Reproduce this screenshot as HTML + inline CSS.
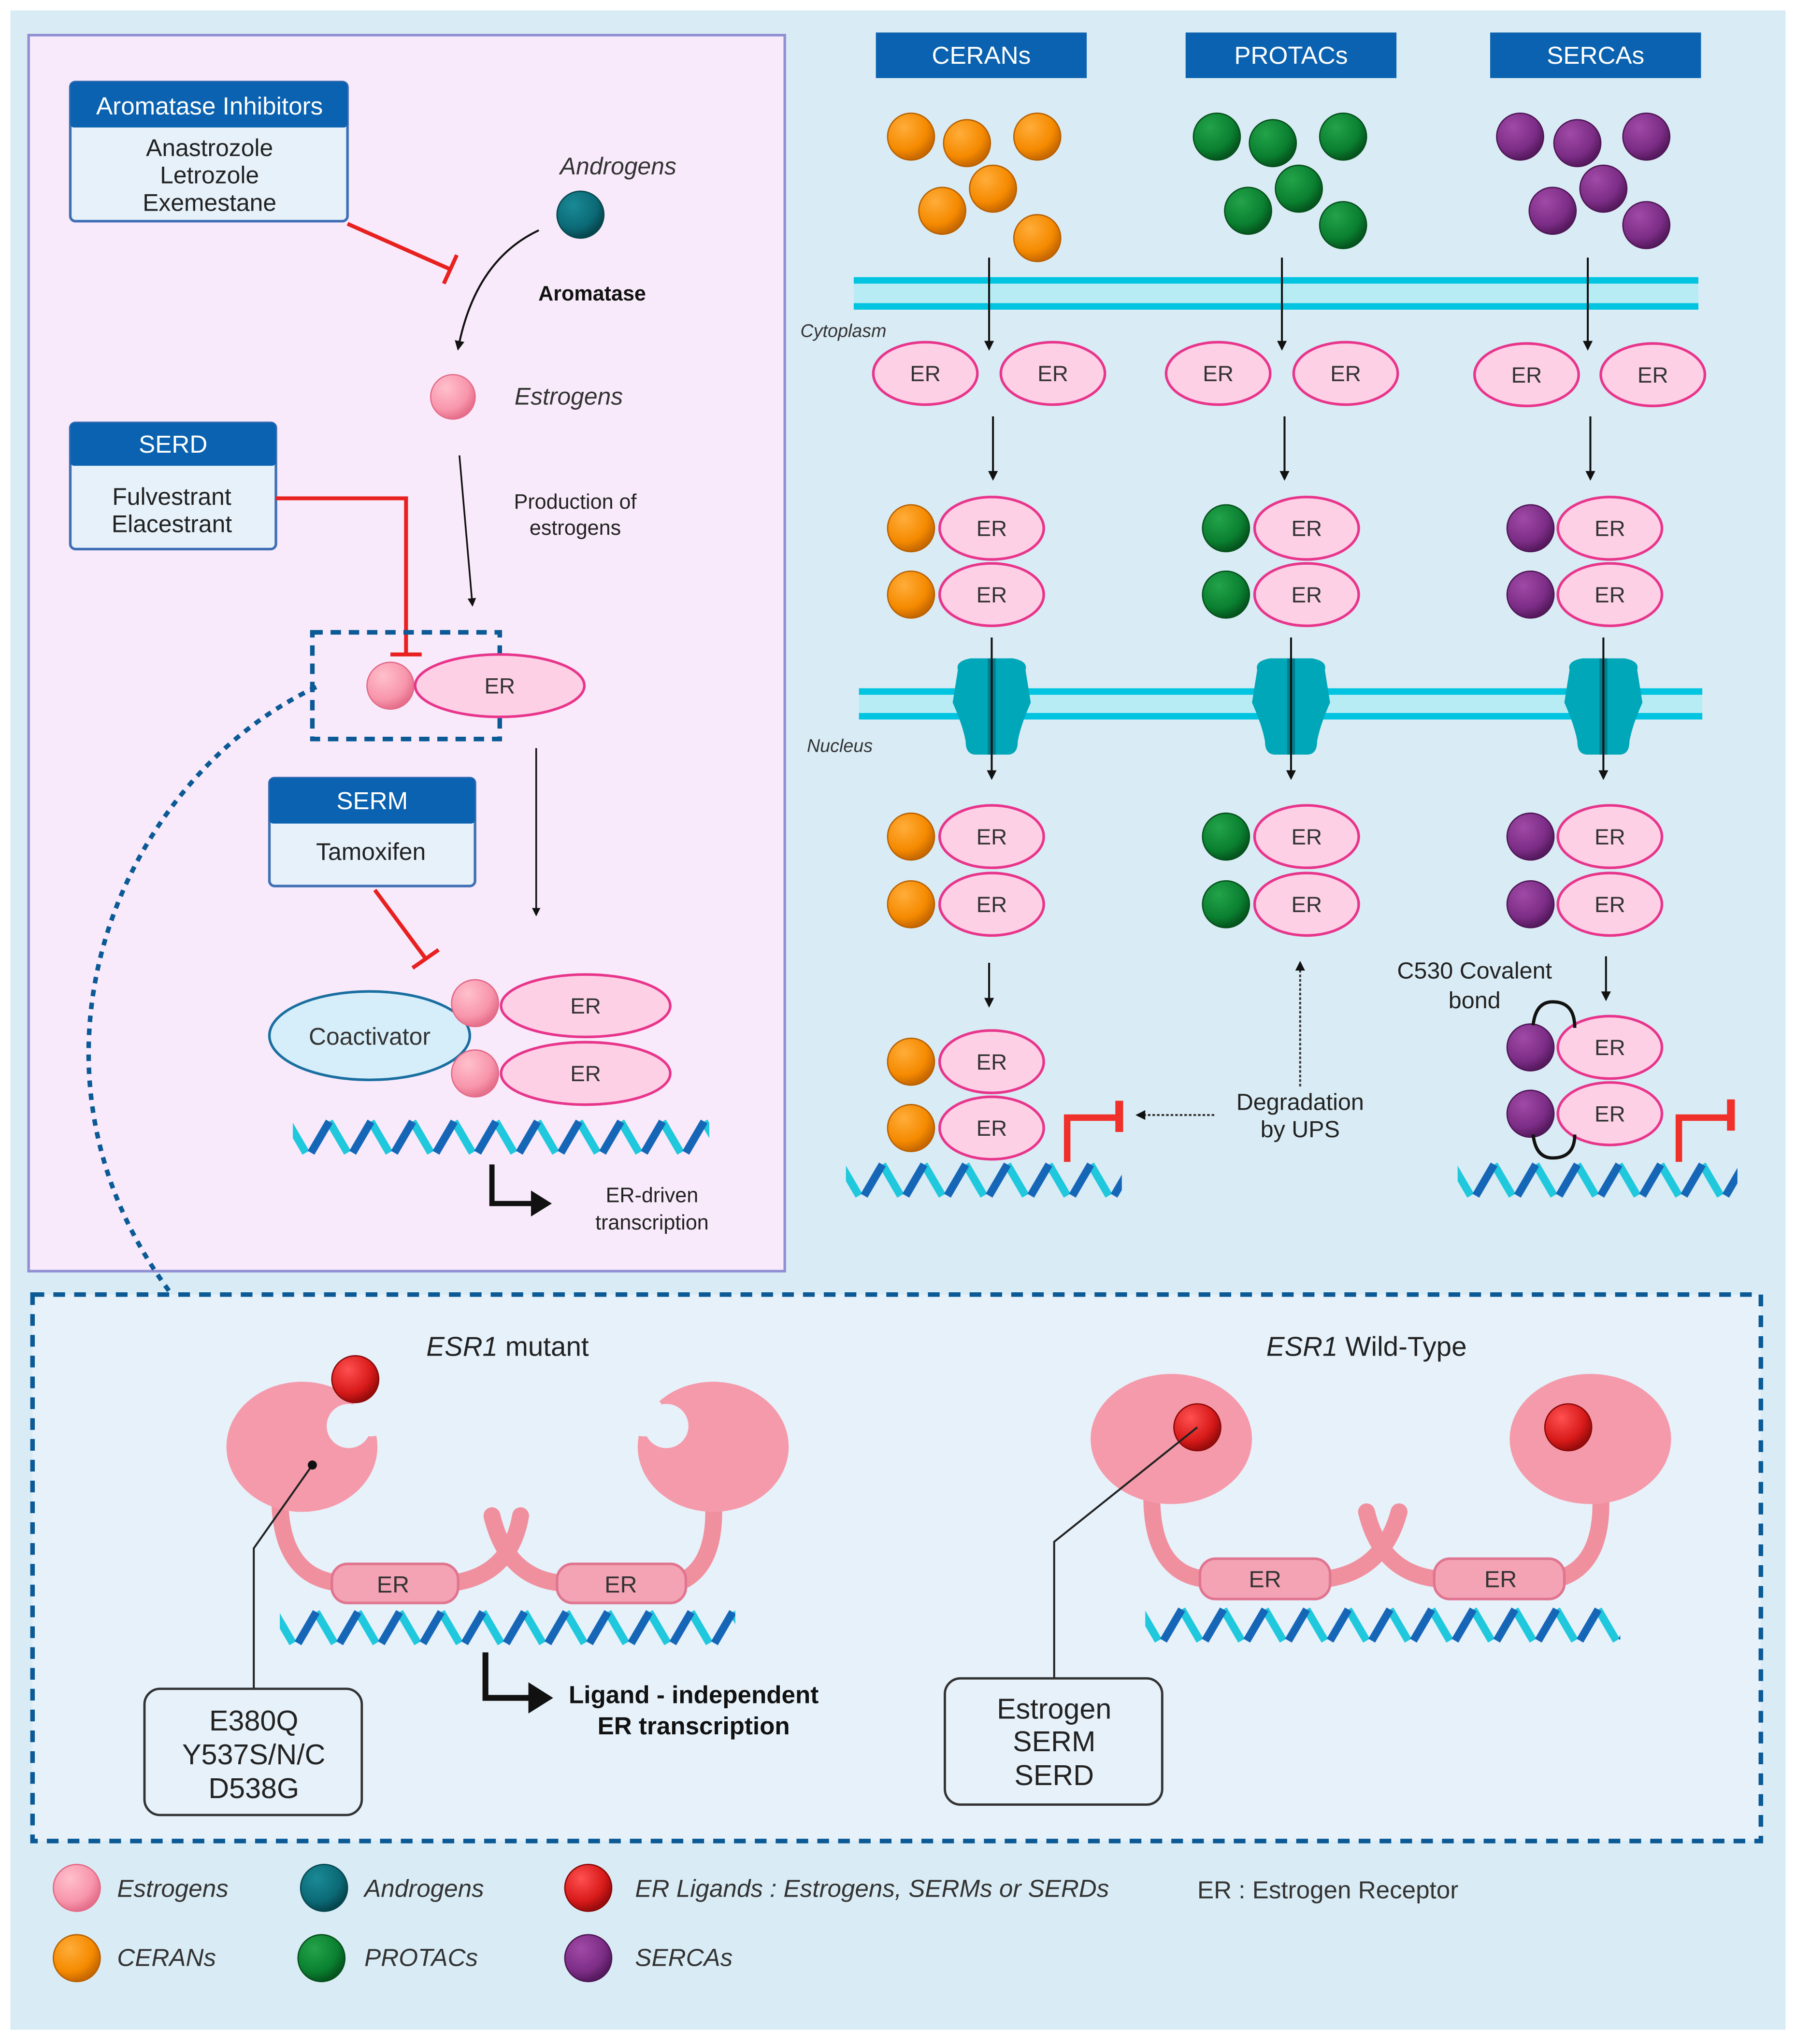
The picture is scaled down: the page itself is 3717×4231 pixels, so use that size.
<!DOCTYPE html>
<html><head><meta charset="utf-8"><style>html,body{margin:0;padding:0;background:#fff}svg{display:block}text{font-family:"Liberation Sans",sans-serif}</style></head><body>
<svg width="3717" height="4231" viewBox="0 0 1380 1571" preserveAspectRatio="none" xmlns="http://www.w3.org/2000/svg">
<defs>
<radialGradient id="go" cx="35%" cy="30%" r="70%"><stop offset="0" stop-color="#ffad3a"/><stop offset=".7" stop-color="#f58a00"/><stop offset="1" stop-color="#c76800"/></radialGradient>
<radialGradient id="gg" cx="35%" cy="30%" r="70%"><stop offset="0" stop-color="#23a34a"/><stop offset=".7" stop-color="#0a8030"/><stop offset="1" stop-color="#05561e"/></radialGradient>
<radialGradient id="gp" cx="35%" cy="30%" r="70%"><stop offset="0" stop-color="#a04aa6"/><stop offset=".7" stop-color="#7c2d86"/><stop offset="1" stop-color="#561a5e"/></radialGradient>
<radialGradient id="gk" cx="35%" cy="30%" r="70%"><stop offset="0" stop-color="#ffc0cc"/><stop offset=".7" stop-color="#f896ac"/><stop offset="1" stop-color="#e6708c"/></radialGradient>
<radialGradient id="gt" cx="35%" cy="30%" r="70%"><stop offset="0" stop-color="#1a8a96"/><stop offset=".7" stop-color="#0b6a76"/><stop offset="1" stop-color="#06474f"/></radialGradient>
<radialGradient id="gr" cx="35%" cy="30%" r="70%"><stop offset="0" stop-color="#ff5050"/><stop offset=".7" stop-color="#d81a1a"/><stop offset="1" stop-color="#9a0c0c"/></radialGradient>
<g id="bo"><circle r="18" fill="url(#go)" stroke="#b86000" stroke-width="1"/></g>
<g id="bg"><circle r="18" fill="url(#gg)" stroke="#05501c" stroke-width="1"/></g>
<g id="bp"><circle r="18" fill="url(#gp)" stroke="#4e1656" stroke-width="1"/></g>
<g id="bk"><circle r="18" fill="url(#gk)" stroke="#e26a88" stroke-width="1"/></g>
<g id="bt"><circle r="18" fill="url(#gt)" stroke="#06474f" stroke-width="1"/></g>
<g id="br"><circle r="18" fill="url(#gr)" stroke="#8a0a0a" stroke-width="1"/></g>
<g id="er"><ellipse rx="40" ry="24" fill="#fdd0e6" stroke="#e8358c" stroke-width="2"/></g>
<g id="erb"><ellipse rx="65" ry="24" fill="#fdd0e6" stroke="#e8358c" stroke-width="2"/></g>
<pattern id="dna" width="32" height="28" patternUnits="userSpaceOnUse">
<path d="M-4,2 L10,26 M28,2 L42,26" stroke="#1fc8dc" stroke-width="6"/>
<path d="M14,26 L28,2" stroke="#1666b8" stroke-width="6"/>
</pattern>
<g id="pore"><path d="M-26,-25 Q-28,-32 -16,-34 L16,-34 Q28,-32 26,-25 L30,0 Q22,18 20,30 Q20,40 12,40 L-12,40 Q-20,40 -20,30 Q-22,18 -30,0 Z" fill="#00a7b8"/><rect x="-3" y="-34" width="6" height="74" fill="#046070" opacity=".6"/></g>
<marker id="ah" viewBox="0 0 10 10" refX="8" refY="5" markerWidth="5" markerHeight="5" orient="auto"><path d="M0,0 L10,5 L0,10 Z" fill="#111"/></marker>
</defs>
<rect width="1380" height="1571" fill="#fff"/>
<rect x="8" y="8" width="1364" height="1552" fill="#d9ebf4"/>
<rect x="22" y="27" width="581" height="950" fill="#f8eafa" stroke="#8f8fd2" stroke-width="2"/>
<rect x="25" y="995" width="1328" height="420" fill="#e6f1fa" stroke="#0b5a96" stroke-width="3.5" stroke-dasharray="9,7"/>

<rect x="54" y="63" width="213" height="107" rx="4" fill="#e6f1fa" stroke="#3f6fb5" stroke-width="2"/>
<rect x="54" y="63" width="213" height="35" rx="3" fill="#0a62b0"/>
<text x="161" y="88" font-size="19" fill="#fff" text-anchor="middle">Aromatase Inhibitors</text>
<text x="161" y="120" font-size="18.5" fill="#222" text-anchor="middle">Anastrozole</text>
<text x="161" y="141" font-size="18.5" fill="#222" text-anchor="middle">Letrozole</text>
<text x="161" y="162" font-size="18.5" fill="#222" text-anchor="middle">Exemestane</text>
<path d="M267,172 L346,207" stroke="#e8201f" stroke-width="3"/><path d="M351,196 L341,218" stroke="#e8201f" stroke-width="3"/>
<text x="475" y="134" font-size="18.5" font-style="italic" fill="#333" text-anchor="middle">Androgens</text>
<use href="#bt" transform="translate(446,165)"/>
<path d="M414,177 Q365,200 352,268" fill="none" stroke="#111" stroke-width="1.5" marker-end="url(#ah)"/>
<text x="455" y="231" font-size="16" font-weight="bold" fill="#111" text-anchor="middle">Aromatase</text>
<use href="#bk" transform="translate(348,305) scale(.95)"/>
<text x="437" y="311" font-size="18.5" font-style="italic" fill="#333" text-anchor="middle">Estrogens</text>
<path d="M353,350 L363,465" stroke="#111" stroke-width="1.3" marker-end="url(#ah)"/>
<text x="442" y="391" font-size="16" fill="#222" text-anchor="middle">Production of</text>
<text x="442" y="411" font-size="16" fill="#222" text-anchor="middle">estrogens</text>
<rect x="54" y="325" width="158" height="97" rx="4" fill="#e6f1fa" stroke="#3f6fb5" stroke-width="2"/>
<rect x="54" y="325" width="158" height="33" rx="3" fill="#0a62b0"/>
<text x="133" y="348" font-size="19" fill="#fff" text-anchor="middle">SERD</text>
<text x="132" y="388" font-size="18.5" fill="#222" text-anchor="middle">Fulvestrant</text>
<text x="132" y="409" font-size="18.5" fill="#222" text-anchor="middle">Elacestrant</text>
<path d="M212,383 H312 V503" fill="none" stroke="#e8201f" stroke-width="3"/><path d="M300,503 H324" stroke="#e8201f" stroke-width="3"/>
<rect x="240" y="486" width="144" height="82" fill="none" stroke="#0b5a96" stroke-width="3.5" stroke-dasharray="8,6"/>
<use href="#bk" transform="translate(300,527)"/>
<use href="#erb" transform="translate(384,527)"/>
<text x="384" y="533" font-size="17" fill="#333" text-anchor="middle">ER</text>
<path d="M412,575 L412,703" stroke="#111" stroke-width="1.3" marker-end="url(#ah)"/>
<rect x="207" y="598" width="158" height="83" rx="4" fill="#e6f1fa" stroke="#3f6fb5" stroke-width="2"/>
<rect x="207" y="598" width="158" height="35" rx="3" fill="#0a62b0"/>
<text x="286" y="622" font-size="19" fill="#fff" text-anchor="middle">SERM</text>
<text x="285" y="661" font-size="18.5" fill="#222" text-anchor="middle">Tamoxifen</text>
<path d="M288,684 L328,738" stroke="#e8201f" stroke-width="3"/><path d="M317,744 L337,730" stroke="#e8201f" stroke-width="3"/>
<ellipse cx="284" cy="796" rx="77" ry="34" fill="#d6eefa" stroke="#1a6fa0" stroke-width="2"/>
<text x="284" y="803" font-size="18.5" fill="#333" text-anchor="middle">Coactivator</text>
<use href="#erb" transform="translate(450,773)"/>
<use href="#erb" transform="translate(450,825)"/>
<use href="#bk" transform="translate(365,771)"/>
<use href="#bk" transform="translate(365,825)"/>
<text x="450" y="779" font-size="17" fill="#333" text-anchor="middle">ER</text>
<text x="450" y="831" font-size="17" fill="#333" text-anchor="middle">ER</text>
<g transform="translate(225,860)"><rect width="320" height="28" fill="url(#dna)"/></g>
<path d="M378,895 V925 H410" fill="none" stroke="#111" stroke-width="4"/><path d="M408,915 L424,925 L408,935 Z" fill="#111"/>
<text x="501" y="924" font-size="16" fill="#222" text-anchor="middle">ER-driven</text>
<text x="501" y="945" font-size="16" fill="#222" text-anchor="middle">transcription</text>
<path d="M243,528 C90,600 0,820 132,995" fill="none" stroke="#0b5a96" stroke-width="3.5" stroke-dasharray="5,5"/>

<rect x="673" y="25" width="162" height="35" fill="#0a62b0"/><text x="754" y="49" font-size="19" fill="#fff" text-anchor="middle">CERANs</text>
<rect x="911" y="25" width="162" height="35" fill="#0a62b0"/><text x="992" y="49" font-size="19" fill="#fff" text-anchor="middle">PROTACs</text>
<rect x="1145" y="25" width="162" height="35" fill="#0a62b0"/><text x="1226" y="49" font-size="19" fill="#fff" text-anchor="middle">SERCAs</text>
<use href="#bo" transform="translate(700,105)"/><use href="#bo" transform="translate(743,110)"/><use href="#bo" transform="translate(797,105)"/><use href="#bo" transform="translate(763,145)"/><use href="#bo" transform="translate(724,162)"/><use href="#bo" transform="translate(797,183)"/>
<use href="#bg" transform="translate(935,105)"/><use href="#bg" transform="translate(978,110)"/><use href="#bg" transform="translate(1032,105)"/><use href="#bg" transform="translate(998,145)"/><use href="#bg" transform="translate(959,162)"/><use href="#bg" transform="translate(1032,173)"/>
<use href="#bp" transform="translate(1168,105)"/><use href="#bp" transform="translate(1212,110)"/><use href="#bp" transform="translate(1265,105)"/><use href="#bp" transform="translate(1232,145)"/><use href="#bp" transform="translate(1193,162)"/><use href="#bp" transform="translate(1265,173)"/>
<rect x="656" y="216" width="649" height="20" fill="#b8ecf4"/>
<rect x="656" y="213" width="649" height="5" fill="#00c4e0"/><rect x="656" y="233" width="649" height="5" fill="#00c4e0"/>
<g stroke="#111" stroke-width="1.5" marker-end="url(#ah)">
<path d="M760,198 V268"/><path d="M985,198 V268"/><path d="M1220,198 V268"/>
<path d="M763,320 V368"/><path d="M987,320 V368"/><path d="M1222,320 V368"/>
</g>
<text x="615" y="259" font-size="14" font-style="italic" fill="#333">Cytoplasm</text>
<use href="#er" transform="translate(711,287)"/><use href="#er" transform="translate(809,287)"/>
<use href="#er" transform="translate(936,287)"/><use href="#er" transform="translate(1034,287)"/>
<use href="#er" transform="translate(1173,288)"/><use href="#er" transform="translate(1270,288)"/>
<g font-size="17" fill="#333" text-anchor="middle">
<text x="711" y="293">ER</text><text x="809" y="293">ER</text><text x="936" y="293">ER</text><text x="1034" y="293">ER</text><text x="1173" y="294">ER</text><text x="1270" y="294">ER</text>
</g>
<g>
<use href="#er" transform="translate(762,406)"/><use href="#er" transform="translate(762,457)"/><use href="#bo" transform="translate(700,406)"/><use href="#bo" transform="translate(700,457)"/>
<use href="#er" transform="translate(1004,406)"/><use href="#er" transform="translate(1004,457)"/><use href="#bg" transform="translate(942,406)"/><use href="#bg" transform="translate(942,457)"/>
<use href="#er" transform="translate(1237,406)"/><use href="#er" transform="translate(1237,457)"/><use href="#bp" transform="translate(1176,406)"/><use href="#bp" transform="translate(1176,457)"/>
<use href="#er" transform="translate(762,643)"/><use href="#er" transform="translate(762,695)"/><use href="#bo" transform="translate(700,643)"/><use href="#bo" transform="translate(700,695)"/>
<use href="#er" transform="translate(1004,643)"/><use href="#er" transform="translate(1004,695)"/><use href="#bg" transform="translate(942,643)"/><use href="#bg" transform="translate(942,695)"/>
<use href="#er" transform="translate(1237,643)"/><use href="#er" transform="translate(1237,695)"/><use href="#bp" transform="translate(1176,643)"/><use href="#bp" transform="translate(1176,695)"/>
<use href="#er" transform="translate(762,816)"/><use href="#er" transform="translate(762,867)"/><use href="#bo" transform="translate(700,816)"/><use href="#bo" transform="translate(700,867)"/>
<use href="#er" transform="translate(1237,805)"/><use href="#er" transform="translate(1237,856)"/><use href="#bp" transform="translate(1176,805)"/><use href="#bp" transform="translate(1176,856)"/>
</g>
<g font-size="17" fill="#333" text-anchor="middle">
<text x="762" y="412">ER</text><text x="762" y="463">ER</text><text x="1004" y="412">ER</text><text x="1004" y="463">ER</text><text x="1237" y="412">ER</text><text x="1237" y="463">ER</text>
<text x="762" y="649">ER</text><text x="762" y="701">ER</text><text x="1004" y="649">ER</text><text x="1004" y="701">ER</text><text x="1237" y="649">ER</text><text x="1237" y="701">ER</text>
<text x="762" y="822">ER</text><text x="762" y="873">ER</text><text x="1237" y="811">ER</text><text x="1237" y="862">ER</text>
</g>
<rect x="660" y="533" width="648" height="16" fill="#b8ecf4"/>
<rect x="660" y="529" width="648" height="5" fill="#00c4e0"/><rect x="660" y="548" width="648" height="5" fill="#00c4e0"/>
<use href="#pore" transform="translate(762,540)"/><use href="#pore" transform="translate(992,540)"/><use href="#pore" transform="translate(1232,540)"/>
<g stroke="#111" stroke-width="1.5" marker-end="url(#ah)">
<path d="M762,490 V598"/><path d="M992,490 V598"/><path d="M1232,490 V598"/>
<path d="M760,740 V773"/><path d="M1234,735 V768"/>
</g>
<text x="620" y="578" font-size="14" font-style="italic" fill="#333">Nucleus</text>
<path d="M999,835 V740" stroke="#333" stroke-width="1.5" stroke-dasharray="2,1.5" marker-end="url(#ah)"/>
<path d="M933,857 H874" stroke="#333" stroke-width="1.5" stroke-dasharray="2,1.5" marker-end="url(#ah)"/>
<text x="999" y="853" font-size="18" fill="#222" text-anchor="middle">Degradation</text>
<text x="999" y="874" font-size="18" fill="#222" text-anchor="middle">by UPS</text>
<text x="1133" y="752" font-size="18" fill="#222" text-anchor="middle">C530 Covalent</text>
<text x="1133" y="775" font-size="18" fill="#222" text-anchor="middle">bond</text>
<path d="M1178,788 Q1180,770 1193,770 Q1210,770 1210,790" fill="none" stroke="#111" stroke-width="2.5"/>
<path d="M1178,872 Q1180,890 1193,890 Q1210,890 1210,872" fill="none" stroke="#111" stroke-width="2.5"/>
<g transform="translate(650,893)"><rect width="212" height="28" fill="url(#dna)"/></g>
<g transform="translate(1120,893)"><rect width="215" height="28" fill="url(#dna)"/></g>
<path d="M820,893 V859 H860" fill="none" stroke="#f0302a" stroke-width="5"/><path d="M860,846 V870" stroke="#f0302a" stroke-width="6"/>
<path d="M1290,893 V859 H1330" fill="none" stroke="#f0302a" stroke-width="5"/><path d="M1330,845 V869" stroke="#f0302a" stroke-width="6"/>

<text x="390" y="1042" font-size="21" fill="#222" text-anchor="middle"><tspan font-style="italic">ESR1</tspan> mutant</text>
<text x="1050" y="1042" font-size="21" fill="#222" text-anchor="middle"><tspan font-style="italic">ESR1</tspan> Wild-Type</text>
<g fill="none" stroke="#f0909f" stroke-width="13" stroke-linecap="round">
<path d="M215,1150 Q215,1215 265,1217"/><path d="M345,1217 Q392,1212 400,1165"/>
<path d="M378,1165 Q390,1215 435,1217"/><path d="M520,1217 Q552,1205 548,1150"/>
<path d="M885,1150 Q885,1212 930,1214"/><path d="M1015,1214 Q1062,1210 1075,1162"/>
<path d="M1050,1162 Q1062,1212 1110,1214"/><path d="M1195,1214 Q1232,1205 1230,1150"/>
</g>
<g fill="#f59aaa">
<ellipse cx="232" cy="1112" rx="58" ry="50"/><ellipse cx="548" cy="1112" rx="58" ry="50"/>
<ellipse cx="900" cy="1106" rx="62" ry="50"/><ellipse cx="1222" cy="1106" rx="62" ry="50"/>
</g>
<circle cx="268" cy="1096" r="17" fill="#e6f1fa"/><circle cx="285" cy="1088" r="16" fill="#e6f1fa"/>
<circle cx="512" cy="1096" r="17" fill="#e6f1fa"/><circle cx="495" cy="1088" r="16" fill="#e6f1fa"/>
<use href="#br" transform="translate(273,1060)"/>
<use href="#br" transform="translate(920,1097)"/>
<use href="#br" transform="translate(1205,1097)"/>
<g fill="#f4a3b5" stroke="#e07590" stroke-width="2">
<rect x="255" y="1202" width="97" height="30" rx="12"/><rect x="428" y="1202" width="99" height="30" rx="12"/>
<rect x="922" y="1198" width="100" height="31" rx="12"/><rect x="1102" y="1198" width="100" height="31" rx="12"/>
</g>
<g font-size="18" fill="#333" text-anchor="middle"><text x="302" y="1224">ER</text><text x="477" y="1224">ER</text><text x="972" y="1220">ER</text><text x="1153" y="1220">ER</text></g>
<g transform="translate(215,1237)"><rect width="350" height="28" fill="url(#dna)"/></g>
<g transform="translate(880,1235)"><rect width="365" height="28" fill="url(#dna)"/></g>
<path d="M240,1126 L195,1190 V1298" fill="none" stroke="#222" stroke-width="1.5"/><circle cx="240" cy="1126" r="3.5" fill="#111"/>
<rect x="111" y="1298" width="167" height="97" rx="12" fill="#e6f1fa" stroke="#333" stroke-width="1.8"/>
<g font-size="22" fill="#222" text-anchor="middle"><text x="195" y="1330">E380Q</text><text x="195" y="1356">Y537S/N/C</text><text x="195" y="1382">D538G</text></g>
<path d="M920,1097 L810,1185 V1290" fill="none" stroke="#222" stroke-width="1.5"/>
<rect x="726" y="1290" width="167" height="97" rx="12" fill="#e6f1fa" stroke="#333" stroke-width="1.8"/>
<g font-size="22" fill="#222" text-anchor="middle"><text x="810" y="1321">Estrogen</text><text x="810" y="1346">SERM</text><text x="810" y="1372">SERD</text></g>
<path d="M373,1270 V1305 H408" fill="none" stroke="#111" stroke-width="4.5"/><path d="M406,1293 L425,1305 L406,1317 Z" fill="#111"/>
<text x="533" y="1309" font-size="19" font-weight="bold" fill="#111" text-anchor="middle">Ligand - independent</text>
<text x="533" y="1333" font-size="19" font-weight="bold" fill="#111" text-anchor="middle">ER transcription</text>

<use href="#bk" transform="translate(59,1451)"/><use href="#bt" transform="translate(249,1451)"/><use href="#br" transform="translate(452,1451)"/>
<use href="#bo" transform="translate(59,1505)"/><use href="#bg" transform="translate(247,1505)"/><use href="#bp" transform="translate(452,1505)"/>
<g font-size="19" font-style="italic" fill="#333">
<text x="90" y="1458">Estrogens</text><text x="280" y="1458">Androgens</text><text x="488" y="1458">ER Ligands : Estrogens, SERMs or SERDs</text>
<text x="90" y="1511">CERANs</text><text x="280" y="1511">PROTACs</text><text x="488" y="1511">SERCAs</text>
</g>
<text x="920" y="1459" font-size="19" fill="#333">ER : Estrogen Receptor</text>
</svg>
</body></html>
